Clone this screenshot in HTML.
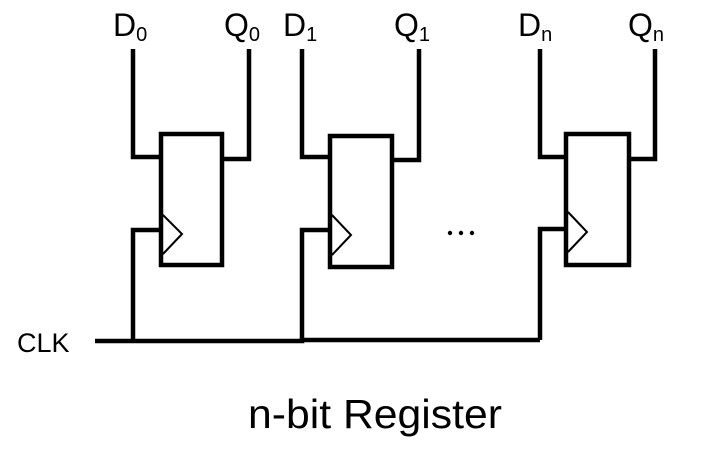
<!DOCTYPE html>
<html><head><style>
html,body{margin:0;padding:0;background:#fff;}
svg{display:block;}
text{font-family:"Liberation Sans",sans-serif;fill:#000;}
</style></head><body>
<svg width="718" height="452" viewBox="0 0 718 452">
<g fill="none" stroke="#000" stroke-width="4.5" stroke-linejoin="miter">
  <rect x="161" y="134" width="61" height="131"/>
  <polyline points="133,49 133,157 161,157"/>
  <polyline points="249,49 249,159 222,159"/>
  <polyline points="161,230 133,230 133,341"/>
  <rect x="330" y="136" width="62" height="131"/>
  <polyline points="302,49 302,157 330,157"/>
  <polyline points="419,49 419,160 392,160"/>
  <polyline points="330,230 302,230 302,341"/>
  <rect x="566" y="134" width="63" height="131"/>
  <polyline points="540,49 540,157 566,157"/>
  <polyline points="655,49 655,159 629,159"/>
  <polyline points="566,229 540,229 540,340"/>
  <polyline points="95,341 302,341 302,340 540,340"/>
</g>
<g fill="none" stroke="#000" stroke-width="2">
  <polyline points="163,215 182,234 163,254"/>
  <polyline points="332,215 351,235 332,255"/>
  <polyline points="568,212 587,232 568,252"/>
</g>
<g font-size="32">
  <text x="113" y="36">D<tspan font-size="20" dy="5">0</tspan></text>
  <text x="224" y="36">Q<tspan font-size="20" dy="5">0</tspan></text>
  <text x="283" y="36">D<tspan font-size="20" dy="5">1</tspan></text>
  <text x="394" y="36">Q<tspan font-size="20" dy="5">1</tspan></text>
  <text x="518" y="36">D<tspan font-size="20" dy="5">n</tspan></text>
  <text x="628" y="36">Q<tspan font-size="20" dy="5">n</tspan></text>
  <text x="17" y="352" font-size="27">CLK</text>
</g>
<g fill="#000">
  <circle cx="450" cy="233" r="2.2"/>
  <circle cx="461" cy="233" r="2.2"/>
  <circle cx="472" cy="233" r="2.2"/>
</g>
<text x="375" y="428" font-size="41" text-anchor="middle" textLength="254" lengthAdjust="spacingAndGlyphs">n-bit Register</text>
</svg>
</body></html>
